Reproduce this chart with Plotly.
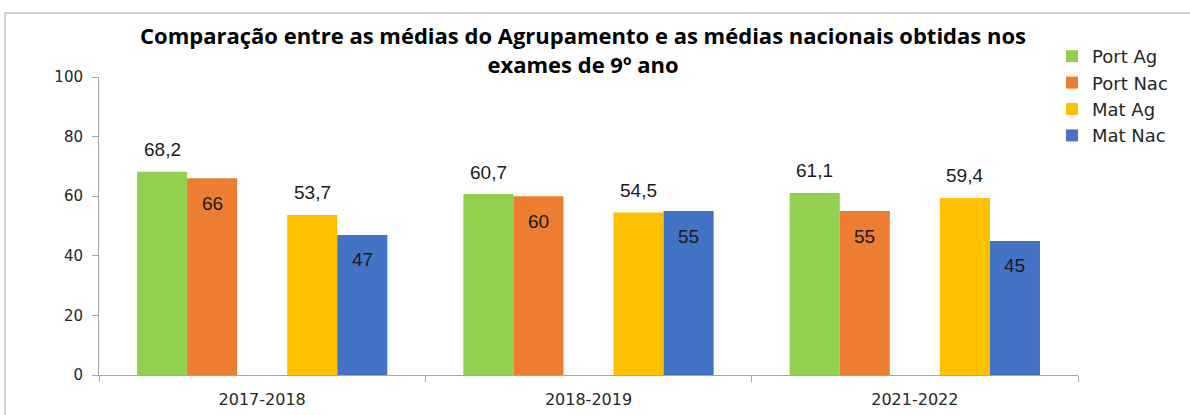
import plotly.graph_objects as go

categories = ["2017-2018", "2018-2019", "2021-2022"]
series_names = ["Port Ag", "Port Nac", "Mat Ag", "Mat Nac"]
port_ag = [68.2, 60.7, 61.1]
port_nac = [66, 60, 55]
mat_ag = [53.7, 54.5, 59.4]
mat_nac = [47, 55, 45]
y_ticks = [0, 20, 40, 60, 80, 100]
title_text = "Comparação entre as médias do Agrupamento e as médias nacionais obtidas nos<br>exames de 9º ano"

colors = ["#92D050", "#ED7D31", "#FFC000", "#4472C4"]
values = [port_ag, port_nac, mat_ag, mat_nac]
label_inside = [False, True, False, True]

W, H = 1190, 415
L, R, T, B = 99, 112, 77, 40
pw = W - L - R
ph = H - T - B
bargap = 0.233
nslots = 5
slot_w = pw / len(categories) * (1 - bargap) / nslots
slot_index = [0, 1, 3, 4]

fig = go.Figure()
for i in range(4):
    fig.add_trace(go.Bar(
        x=categories, y=values[i], name=series_names[i],
        marker=dict(color=colors[i], line=dict(width=0)),
        hoverinfo="x+y",
    ))
    if i == 1:
        # empty slot between Port and Mat groups
        fig.add_trace(go.Bar(x=categories, y=[0, 0, 0], showlegend=False,
                             marker=dict(color="rgba(0,0,0,0)", line=dict(width=0)),
                             hoverinfo="skip"))

annotations = []
for i in range(4):
    xs = (slot_index[i] - (nslots - 1) / 2) * slot_w
    for c, v in zip(categories, values[i]):
        txt = f"{v:g}".replace(".", ",")
        annotations.append(dict(
            x=c, y=v, xref="x", yref="y", text=txt, showarrow=False,
            xshift=xs, yshift=-25 if label_inside[i] else 22,
            xanchor="center", yanchor="middle",
            font=dict(family="Liberation Sans", size=19, color="#1a1a1a"),
        ))

def px_x(p):
    return (p - L) / pw
def px_y(p):
    return 1 - (p - T) / ph

# outer frame
shapes = [dict(type="rect", xref="paper", yref="paper",
               x0=px_x(5), x1=px_x(W + 10), y0=px_y(H + 10), y1=px_y(13),
               line=dict(color="#a6a6a6", width=1), fillcolor="rgba(0,0,0,0)", layer="below")]

fig.update_layout(
    width=W, height=H,
    margin=dict(l=L, r=R, t=T, b=B, autoexpand=False),
    paper_bgcolor="white", plot_bgcolor="white",
    barmode="group", bargap=bargap, bargroupgap=0,
    title=dict(text=title_text, x=583 / W, xanchor="center", y=1 - 44 / H, yanchor="top",
               yref="container",
               font=dict(family="Open Sans", size=22, color="#000000", weight="bold")),
    legend=dict(x=px_x(1052), xanchor="left", y=px_y(38), yanchor="top",
                font=dict(family="DejaVu Sans", size=18, color="#262626"),
                itemwidth=30, tracegroupgap=0, bgcolor="rgba(0,0,0,0)"),
    annotations=annotations,
    shapes=shapes,
    showlegend=True,
)
fig.update_xaxes(showline=True, linecolor="#a6a6a6", linewidth=1,
                 ticks="outside", tickson="boundaries", ticklen=6, tickcolor="#a6a6a6",
                 tickfont=dict(family="DejaVu Sans", size=16, color="#262626"),
                 showgrid=False, zeroline=False, ticklabelstandoff=10)
fig.update_yaxes(range=[0, 100], tickvals=y_ticks, showline=True, linecolor="#a6a6a6", linewidth=1,
                 ticks="outside", ticklen=6, tickcolor="#a6a6a6",
                 tickfont=dict(family="DejaVu Sans", size=15, color="#262626"),
                 showgrid=False, zeroline=False, ticklabelstandoff=6)

fig.write_html("out.html", config={"displayModeBar": False},
               post_script="document.body.style.margin='0';document.body.style.overflow='hidden';")
